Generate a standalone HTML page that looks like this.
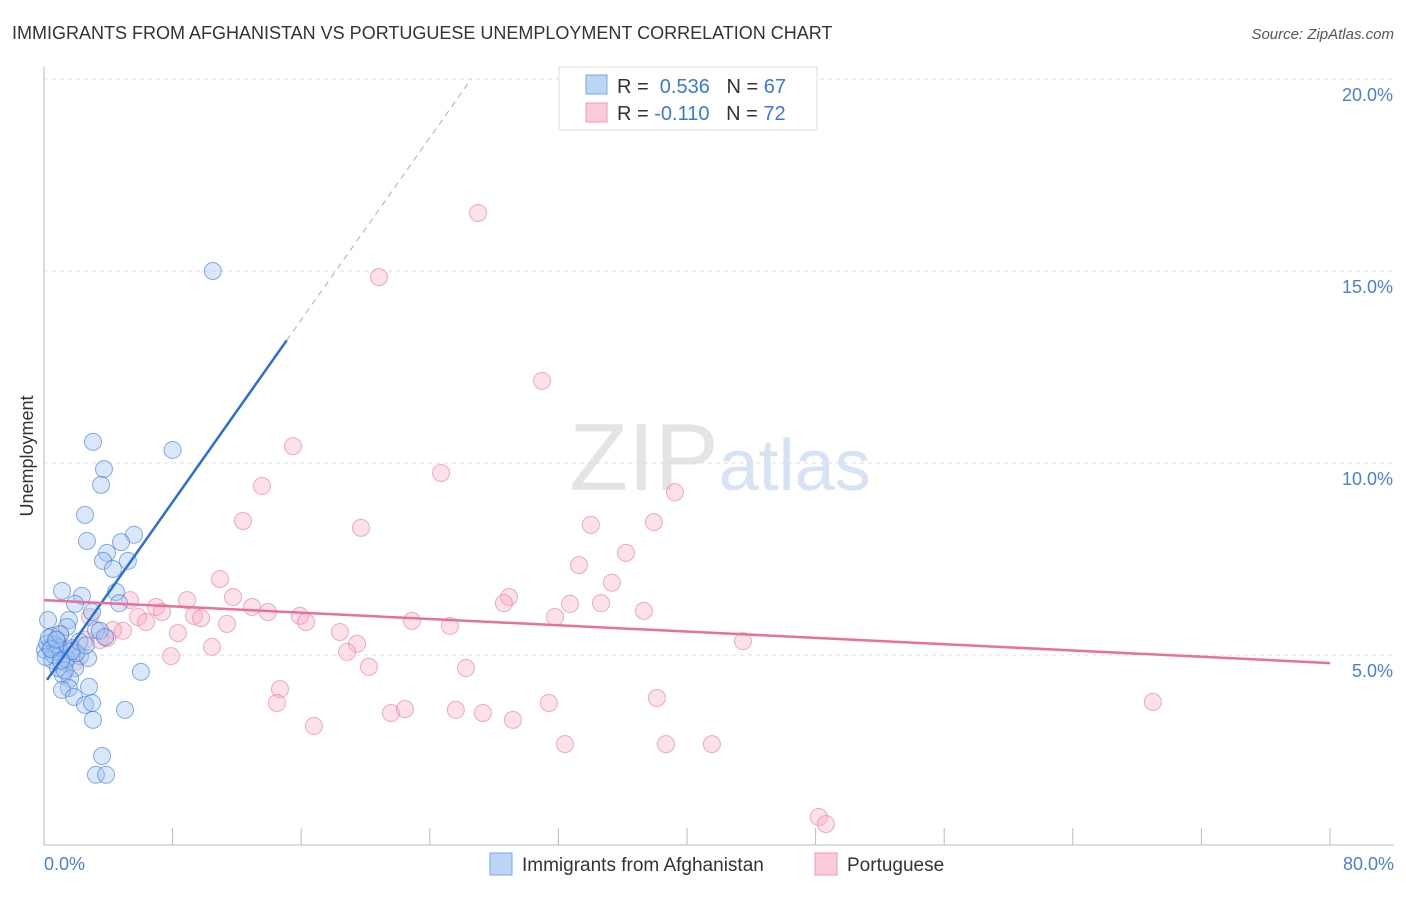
<!DOCTYPE html>
<html><head><meta charset="utf-8"><style>
body{margin:0;background:#fff;font-family:"Liberation Sans",sans-serif}
svg text{font-family:"Liberation Sans",sans-serif}
</style></head><body>
<svg id="chart" width="1406" height="892" xmlns="http://www.w3.org/2000/svg">
<text x="12" y="39" font-size="18" fill="#333">IMMIGRANTS FROM AFGHANISTAN VS PORTUGUESE UNEMPLOYMENT CORRELATION CHART</text>
<text x="1394" y="39" font-size="15" fill="#555" text-anchor="end" font-style="italic">Source: ZipAtlas.com</text>
<text x="720" y="490" font-size="96" fill="#e4e4e4" text-anchor="middle" font-family="Liberation Serif"><tspan>ZIP</tspan><tspan fill="#d5e3f5" font-family="Liberation Sans" font-size="72">atlas</tspan></text>
<g id="grid"></g>
<g id="axes"></g>
<g id="points"></g>
<g id="trends"></g>
<text transform="translate(33,456) rotate(-90)" font-size="18" fill="#333" text-anchor="middle">Unemployment</text>
<text x="44" y="870" font-size="18" fill="#4a7fd6">0.0%</text>
<text x="1394" y="870" font-size="18" fill="#4a7fd6" text-anchor="end">80.0%</text>
<g>
<rect x="559" y="67" width="258" height="63" fill="#fff" stroke="#ddd"/>
<rect x="586" y="75" width="21" height="19" fill="#bcd5f5" stroke="#7aa8e8"/>
<rect x="586" y="103" width="21" height="19" fill="#fbcbd9" stroke="#f09ab5"/>
<text x="617" y="93" font-size="20" fill="#333">R = <tspan fill="#3b78d8">&#160;0.536</tspan>&#160;&#160;&#160;N = <tspan fill="#3b78d8">67</tspan></text>
<text x="617" y="120" font-size="20" fill="#333">R = <tspan fill="#3b78d8">-0.110</tspan>&#160;&#160;&#160;N = <tspan fill="#3b78d8">72</tspan></text>
</g>
<g>
<rect x="490" y="853" width="22" height="22" fill="#bcd5f5" stroke="#7aa8e8"/>
<text x="522" y="871" font-size="19" fill="#333">Immigrants from Afghanistan</text>
<rect x="815" y="853" width="22" height="22" fill="#fbcbd9" stroke="#f09ab5"/>
<text x="847" y="871" font-size="19" fill="#333">Portuguese</text>
</g>
</svg>
<script>
const yTicks=[5,10,15,20];
const yTickLabels=["5.0%","10.0%","15.0%","20.0%"];
const xTicks=[0,8,16,24,32,40,48,56,64,72,80];
const blueX=[10.5,8.0,3.05,3.73,3.55,2.55,2.67,5.6,4.79,3.92,3.67,5.22,4.29,1.12,2.36,4.48,4.67,1.93,2.99,1.55,1.43,3.23,3.48,3.79,0.25,0.5,0.81,0.37,0.99,1.74,2.24,2.74,1.31,1.93,1.18,1.62,2.8,6.03,1.55,1.12,1.87,2.55,2.99,5.04,3.05,3.61,3.23,3.86,0.68,0.06,0.5,0.87,0.2,0.9,1.4,2.0,0.3,1.0,1.7,0.6,0.1,2.2,1.3,0.45,0.75,1.05,2.6];
const blueY=[15.0,10.34,10.55,9.84,9.43,8.65,7.97,8.13,7.94,7.66,7.45,7.45,7.24,6.67,6.54,6.64,6.35,6.33,6.12,5.91,5.73,5.65,5.63,5.47,5.91,5.49,5.39,5.18,5.08,5.18,4.97,4.92,4.79,4.66,4.48,4.38,4.17,4.56,4.14,4.09,3.91,3.70,3.75,3.57,3.31,2.37,1.88,1.88,5.26,5.13,4.87,4.66,5.3,5.2,4.9,5.05,5.45,5.55,5.1,5.0,4.95,5.35,4.6,5.15,5.4,4.85,5.25];
const pinkX=[27.0,20.84,30.98,15.49,24.7,39.25,13.56,12.38,19.72,34.02,37.94,36.2,33.28,35.33,10.95,11.76,8.9,6.97,5.35,7.34,12.94,13.93,28.93,28.61,32.72,34.65,37.32,31.79,5.85,6.35,9.33,9.77,11.38,15.92,16.3,22.89,25.25,8.33,4.91,4.29,18.41,19.47,18.85,10.45,7.9,20.21,26.25,43.48,14.68,14.49,16.79,21.58,22.45,25.62,27.3,31.41,29.17,38.13,32.41,38.69,41.55,48.2,48.64,68.98,2.86,2.55,1.0,1.37,1.93,3.48,0.5,3.92];
const pinkY=[16.51,14.84,12.14,10.44,9.74,9.24,9.4,8.49,8.31,8.39,8.46,7.66,7.34,6.88,6.98,6.51,6.43,6.25,6.43,6.12,6.25,6.12,6.51,6.35,6.33,6.35,6.15,5.99,5.99,5.86,6.02,5.96,5.81,6.02,5.86,5.89,5.76,5.57,5.63,5.65,5.6,5.29,5.08,5.21,4.97,4.69,4.66,5.36,4.11,3.75,3.15,3.49,3.59,3.57,3.49,3.75,3.31,3.88,2.68,2.68,2.68,0.78,0.6,3.78,5.99,5.39,5.52,5.13,4.82,5.39,5.18,5.44];
const blueTrend=[0.593,4.24];
const pinkTrend=[-0.0205,6.43];
const NS="http://www.w3.org/2000/svg";
const X=v=>44+v*(1286/80);
const Y=v=>847-v*38.4;
function mk(tag,attrs,parent){const e=document.createElementNS(NS,tag);for(const k in attrs)e.setAttribute(k,attrs[k]);document.getElementById(parent).appendChild(e);return e;}
yTicks.forEach((t,i)=>{
  const l=mk('line',{x1:44,x2:1394,y1:Y(t),y2:Y(t),stroke:'#ddd','stroke-dasharray':'4,4'},'grid');
  
  
  const tx=mk('text',{x:1393,y:Y(t)+22,'font-size':18,fill:'#4a7fd6','text-anchor':'end'},'grid');
  tx.textContent=yTickLabels[i];
  
  
});
const ax=mk('line',{x1:44,x2:44,y1:67,y2:845,stroke:'#bbb'},'axes');


const bx=mk('line',{x1:44,x2:1394,y1:845,y2:845,stroke:'#bbb'},'axes');


xTicks.forEach(t=>{
  const l=mk('line',{x1:X(t),x2:X(t),y1:828,y2:845,stroke:'#bbb'},'axes');
  
  
});
pinkX.forEach((v,i)=>{
  const c=mk('circle',{cx:X(v),cy:Y(pinkY[i]),r:8.5,fill:'rgba(246,170,195,0.35)',stroke:'rgba(232,120,160,0.6)','stroke-width':1},'points');
  
  
});
blueX.forEach((v,i)=>{
  const c=mk('circle',{cx:X(v),cy:Y(blueY[i]),r:8.5,fill:'rgba(160,196,240,0.4)',stroke:'rgba(60,120,215,0.6)','stroke-width':1},'points');
  
  
});
const bx0=0.19,bx1=15.1,bx2=(20-blueTrend[1])/blueTrend[0];
const b1=mk('line',{x1:X(bx0),y1:Y(blueTrend[0]*bx0+blueTrend[1]),x2:X(bx1),y2:Y(blueTrend[0]*bx1+blueTrend[1]),stroke:'#2a6fd6','stroke-width':2.5},'trends');


const b2=mk('line',{x1:X(bx1),y1:Y(blueTrend[0]*bx1+blueTrend[1]),x2:X(bx2),y2:Y(20),stroke:'#8fb3e8','stroke-width':1,'stroke-dasharray':'6,5'},'trends');


const p1=mk('line',{x1:X(0),y1:Y(pinkTrend[1]),x2:X(80),y2:Y(pinkTrend[0]*80+pinkTrend[1]),stroke:'#e8709a','stroke-width':2.5},'trends');


</script>
</body></html>
